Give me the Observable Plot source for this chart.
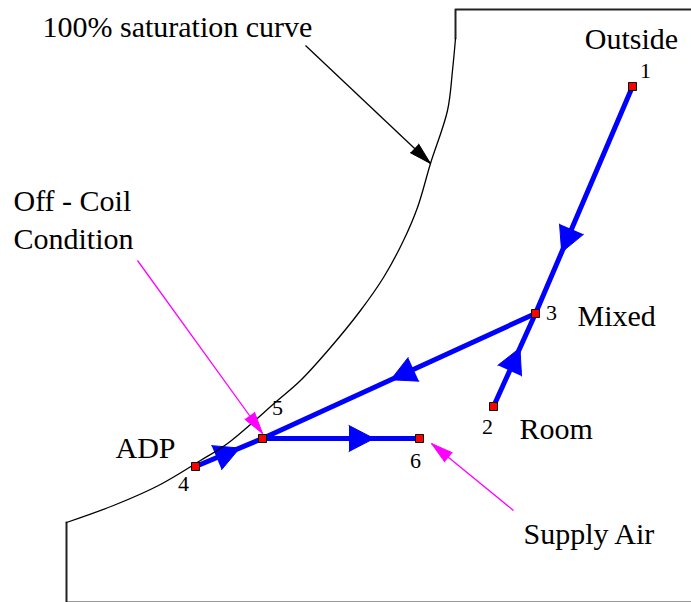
<!DOCTYPE html>
<html><head><meta charset="utf-8">
<script src="https://cdn.jsdelivr.net/npm/d3@7"></script>
<script src="https://cdn.jsdelivr.net/npm/@observablehq/plot@0.6"></script>
<style>html,body{margin:0;padding:0;background:#fff}svg{display:block}</style>
</head><body><div id="chart"></div>
<script>
// ---- data (diagram units, y grows downward) ----
const stateIds = ["1", "2", "3", "4", "5", "6"];
const stateX = [632, 493, 535, 195, 262, 419];
const stateY = [86, 406, 313, 466, 438, 438];

const processes = [["1", "3"], ["2", "3"], ["3", "5"], ["5", "4"], ["5", "6"]];
const arrowSegments = [["1", "3"], ["2", "3"], ["3", "5"], ["4", "5"], ["5", "6"]];
const arrowTips = [0.73, 0.63, 0.53, 0.66, 0.71];

const frameTopX = [691, 455, 455];
const frameTopY = [9, 9, 38];
const saturationX = [455, 452, 447, 430, 417, 403, 383, 360, 330, 300, 277, 227, 200, 158, 113, 66];
const saturationY = [38, 70, 110, 163, 207, 240, 277, 310, 347, 380, 400, 443, 460, 485, 505, 522];
const frameBottomX = [66, 66, 691];
const frameBottomY = [522, 601, 601];

const wordLabels = ["100% saturation curve", "Outside", "Off - Coil", "Condition", "ADP", "Mixed", "Room", "Supply Air"];
const wordX = [42, 631, 13, 13, 115, 577, 519, 523];
const wordY = [36, 48, 210, 248, 457, 325, 438, 543];
const wordAnchor = ["start", "middle", "start", "start", "start", "start", "start", "start"];

const numberX = [645, 487, 551, 183, 277, 415];
const numberY = [77, 433, 319, 490, 414, 467];

const pointerFromX = [305, 137, 513];
const pointerFromY = [45, 260, 510];
const pointerToX = [430, 262, 431];
const pointerToY = [163, 433, 443];
const pointerColor = ["#000000", "#ff00ff", "#ff00ff"];

// ---- build tables ----
const states = stateIds.map((id, i) => ({id, x: stateX[i], y: stateY[i]}));
const S = Object.fromEntries(states.map(d => [d.id, d]));
const links = processes.map(([a, b]) => ({x1: S[a].x, y1: S[a].y, x2: S[b].x, y2: S[b].y}));

function head(ax, ay, bx, by, t, len, hw, key) {
  const dx = bx - ax, dy = by - ay, L = Math.hypot(dx, dy);
  const ux = dx / L, uy = dy / L;
  const tx = ax + t * dx, ty = ay + t * dy;
  const cx = tx - len * ux, cy = ty - len * uy;
  const px = -uy, py = ux;
  return [
    {k: key, x: cx + hw * px, y: cy + hw * py},
    {k: key, x: tx, y: ty},
    {k: key, x: cx - hw * px, y: cy - hw * py}
  ];
}
const blueHeads = arrowSegments.flatMap(([a, b], i) =>
  head(S[a].x, S[a].y, S[b].x, S[b].y, arrowTips[i], 25, 13, "a" + i));

const pointers = pointerFromX.map((x, i) => ({x1: x, y1: pointerFromY[i], x2: pointerToX[i], y2: pointerToY[i], c: pointerColor[i]}));
const pointerHeads = pointers.flatMap((p, i) =>
  head(p.x1, p.y1, p.x2, p.y2, 1, 22, 6, "p" + i).map(d => ({...d, c: p.c})));

const frameTop = frameTopX.map((x, i) => ({x, y: frameTopY[i]}));
const saturation = saturationX.map((x, i) => ({x, y: saturationY[i]}));
const frameBottom = frameBottomX.map((x, i) => ({x, y: frameBottomY[i]}));

const words = wordLabels.map((t, i) => ({t, x: wordX[i], y: wordY[i], a: wordAnchor[i]}));
const numbers = stateIds.map((t, i) => ({t, x: numberX[i], y: numberY[i]}));

const FONT = "Liberation Serif, Times New Roman, serif";
const WFS = 30, NFS = 22;

const chart = Plot.plot({
  width: 691,
  height: 602,
  margin: 0,
  x: {domain: [0, 691], range: [0, 691], axis: null},
  y: {domain: [0, 602], range: [0, 602], axis: null},
  style: {fontFamily: FONT, background: "#fff"},
  marks: [
    Plot.line(frameBottom.slice(1), {x: "x", y: "y", stroke: "#999", strokeWidth: 1}),
    Plot.line(frameBottom.slice(0, 2), {x: "x", y: "y", stroke: "#222", strokeWidth: 2}),
    Plot.line(frameTop, {x: "x", y: "y", stroke: "#222", strokeWidth: 2}),
    Plot.link(links, {x1: "x1", y1: "y1", x2: "x2", y2: "y2", stroke: "#0000ff", strokeWidth: 5, strokeLinecap: "round"}),
    Plot.line(blueHeads, {x: "x", y: "y", z: "k", fill: "#0000ff", stroke: "#0000ff", strokeWidth: 1, strokeLinejoin: "miter"}),
    Plot.line(saturation, {x: "x", y: "y", curve: "catmull-rom", stroke: "#000", strokeWidth: 1.3}),
    Plot.link(pointers, {x1: "x1", y1: "y1", x2: "x2", y2: "y2", stroke: "c", strokeWidth: 1.3}),
    Plot.line(pointerHeads, {x: "x", y: "y", z: "k", fill: "c", stroke: "c", strokeWidth: 1}),
    Plot.dot(states, {x: "x", y: "y", symbol: "square", r: 4.5, fill: "#ff0000", stroke: "#000", strokeWidth: 1}),
    Plot.text(words.filter(d => d.a === "start"), {x: "x", y: "y", text: "t", textAnchor: "start", lineAnchor: "bottom", fontSize: WFS, fill: "#000"}),
    Plot.text(words.filter(d => d.a === "middle"), {x: "x", y: "y", text: "t", textAnchor: "middle", lineAnchor: "bottom", fontSize: WFS, fill: "#000"}),
    Plot.text(numbers, {x: "x", y: "y", text: "t", lineAnchor: "bottom", fontSize: NFS, fill: "#000"})
  ]
});
document.getElementById("chart").append(chart);
</script>
</body></html>
